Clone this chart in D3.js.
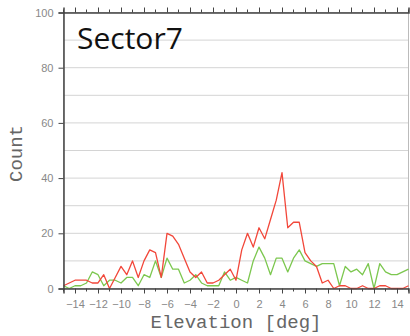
<!DOCTYPE html>
<html>
<head>
<meta charset="utf-8">
<script src="https://cdn.jsdelivr.net/npm/d3@7/dist/d3.min.js"></script>
<style>
  html, body { margin: 0; padding: 0; background: #fff; }
  svg { display: block; }
  .tick text { font-family: "Liberation Sans", Arial, sans-serif; font-size: 11px; fill: #888; }
</style>
</head>
<body>
<svg id="chart" width="410" height="336"></svg>
<script>
// Elevation bins (deg)
const elevation = [
  -15, -14.5, -14, -13.5, -13, -12.5, -12, -11.5, -11, -10.5,
  -10, -9.5, -9, -8.5, -8, -7.5, -7, -6.5, -6, -5.5,
  -5, -4.5, -4, -3.5, -3, -2.5, -2, -1.5, -1, -0.5,
  0, 0.5, 1, 1.5, 2, 2.5, 3, 3.5, 4, 4.5,
  5, 5.5, 6, 6.5, 7, 7.5, 8, 8.5, 9, 9.5,
  10, 10.5, 11, 11.5, 12, 12.5, 13, 13.5, 14, 14.5, 15
];

// Counts per bin, red series
const redCounts = [
  1, 2, 3, 3, 3, 2, 2, 5, 0, 4,
  8, 5, 10, 4, 10, 14, 13, 4, 20, 19,
  16, 11, 6, 4, 6, 2, 2, 3, 5, 7,
  3, 14, 20, 15, 22, 18, 25, 32, 42, 22,
  24, 24, 13, 10, 8, 2, 3, 0, 1, 1,
  0, 0, 1, 0, 0, 1, 1, 0, 0, 0, 1
];

// Counts per bin, green series
const greenCounts = [
  1, 0, 1, 1, 2, 6, 5, 1, 3, 3,
  2, 4, 4, 1, 5, 4, 10, 4, 11, 7,
  7, 2, 3, 5, 2, 1, 1, 1, 6, 3,
  4, 3, 2, 10, 15, 11, 5, 11, 11, 6,
  11, 14, 10, 9, 8, 9, 9, 9, 1, 8,
  6, 7, 5, 9, 0, 9, 6, 5, 5, 6, 7
];

const xTicks = [-14, -12, -10, -8, -6, -4, -2, 0, 2, 4, 6, 8, 10, 12, 14];
const xMinorTicks = [-15, -13, -11, -9, -7, -5, -3, -1, 1, 3, 5, 7, 9, 11, 13, 15];
const yTicks = [0, 20, 40, 60, 80, 100];
const yGrid = [10, 20, 30, 40, 50, 60, 70, 80, 90];

const title = "Sector7";
const xLabel = "Elevation [deg]";
const yLabel = "Count";

const svg = d3.select("#chart");
const plotLeft = 63.5, plotRight = 408.5, plotTop = 12.5, plotBottom = 288.5;

const x = d3.scaleLinear().domain([-15, 15]).range([plotLeft, plotRight]);
const y = d3.scaleLinear().domain([0, 100]).range([plotBottom, plotTop]);
const fmt = d => d < 0 ? "\u2212" + Math.abs(d) : String(d);

// horizontal grid
svg.append("g").selectAll("line").data(yGrid).join("line")
  .attr("x1", plotLeft).attr("x2", plotRight)
  .attr("y1", d => y(d)).attr("y2", d => y(d))
  .attr("stroke", "#d4d4d4").attr("stroke-width", 1);

// frame
svg.append("rect")
  .attr("x", plotLeft).attr("y", plotTop)
  .attr("width", plotRight - plotLeft).attr("height", plotBottom - plotTop)
  .attr("fill", "none").attr("stroke", "#bbb").attr("stroke-width", 1);

// series lines
const line = series => d3.line()
  .x((d, i) => x(elevation[i]))
  .y(d => y(d))(series);

svg.append("path").attr("d", line(greenCounts))
  .attr("fill", "none").attr("stroke", "#7cc74f").attr("stroke-width", 1.3)
  .attr("stroke-linejoin", "round");
svg.append("path").attr("d", line(redCounts))
  .attr("fill", "none").attr("stroke", "#f2473a").attr("stroke-width", 1.3)
  .attr("stroke-linejoin", "round");

// bottom axis: major ticks with labels, minor ticks between
const xAxis = svg.append("g").attr("transform", `translate(0,${plotBottom})`)
  .call(d3.axisBottom(x).tickValues(xTicks).tickFormat(fmt).tickSize(5).tickPadding(7));
xAxis.append("g").selectAll("line").data(xMinorTicks).join("line")
  .attr("x1", d => x(d)).attr("x2", d => x(d)).attr("y1", 0).attr("y2", 3)
  .attr("stroke", "#444");
xAxis.select(".domain").attr("stroke", "#444").attr("stroke-width", 1.5);
xAxis.selectAll(".tick line").attr("stroke", "#444");

// top axis ticks
const topAxis = svg.append("g").attr("transform", `translate(0,${plotTop})`)
  .call(d3.axisTop(x).tickValues(xTicks).tickFormat("").tickSize(5));
topAxis.append("g").selectAll("line").data(xMinorTicks).join("line")
  .attr("x1", d => x(d)).attr("x2", d => x(d)).attr("y1", 0).attr("y2", -3)
  .attr("stroke", "#444");
topAxis.select(".domain").attr("stroke", "#444").attr("stroke-width", 1.5);
topAxis.selectAll(".tick line").attr("stroke", "#444");

// left axis
const yAxis = svg.append("g").attr("transform", `translate(${plotLeft},0)`)
  .call(d3.axisLeft(y).tickValues(yTicks).tickSize(5).tickPadding(5));
yAxis.select(".domain").attr("stroke", "#444").attr("stroke-width", 1.5);
yAxis.selectAll(".tick line").attr("stroke", "#444");

// title inside plot
svg.append("text").attr("x", 77).attr("y", 49)
  .attr("font-family", "'Open Sans', sans-serif").attr("font-size", 30)
  .attr("fill", "#111").text(title);

// axis labels
svg.append("text").attr("x", (plotLeft + plotRight) / 2).attr("y", 328)
  .attr("text-anchor", "middle")
  .attr("font-family", "'Liberation Mono', 'Courier New', monospace").attr("font-size", 19)
  .attr("fill", "#666").text(xLabel);

svg.append("text").attr("transform", `translate(22,${(plotTop + plotBottom) / 2 + 3}) rotate(-90)`)
  .attr("text-anchor", "middle")
  .attr("font-family", "'Liberation Mono', 'Courier New', monospace").attr("font-size", 19)
  .attr("fill", "#666").text(yLabel);
</script>
</body>
</html>
